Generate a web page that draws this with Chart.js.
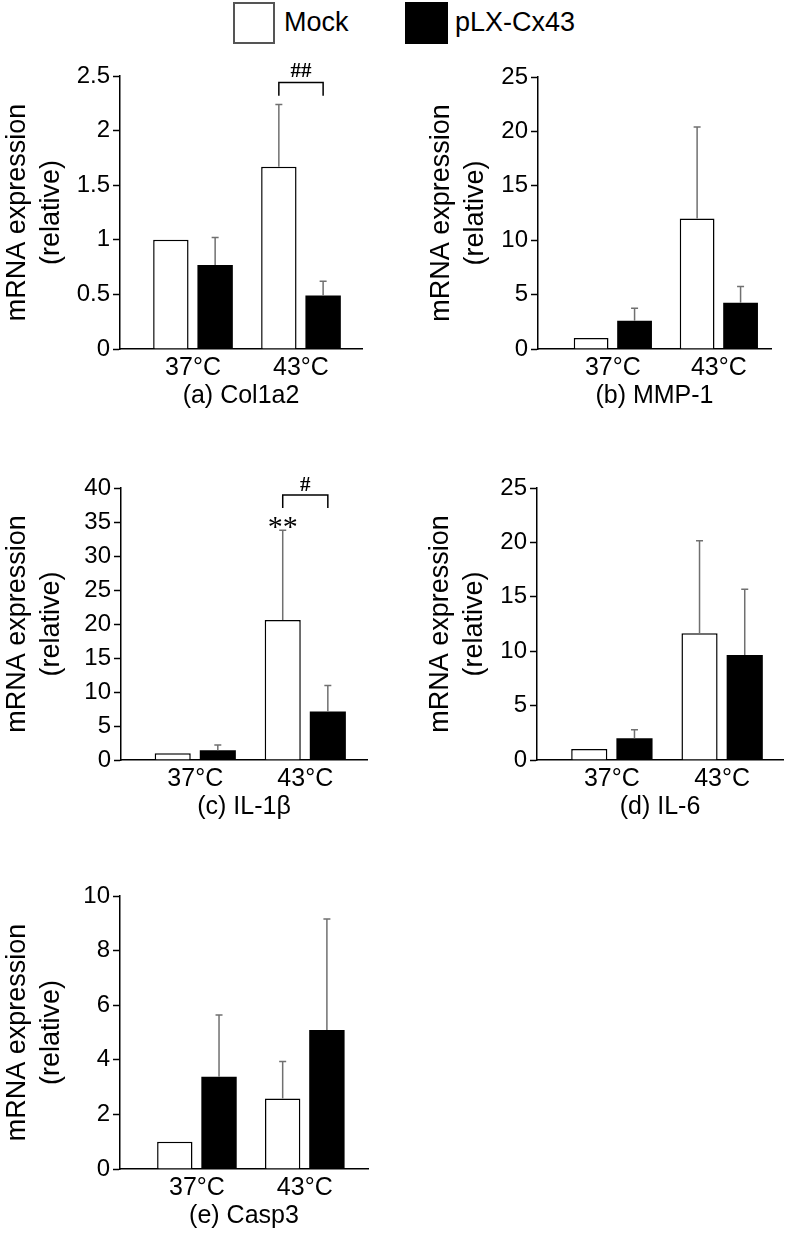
<!DOCTYPE html>
<html>
<head>
<meta charset="utf-8">
<script src="https://cdn.jsdelivr.net/npm/chart.js@4.4.0/dist/chart.umd.min.js"></script>
<style>
  body { margin: 0; background: #fff; width: 786px; height: 1236px; position: relative; overflow: hidden;
         font-family: "Liberation Sans", Arial, Helvetica, sans-serif; color: #000; }
  canvas { position: absolute; }
  .swatch { position: absolute; box-sizing: border-box; width: 42px; height: 42px; top: 2px; }
  .key { position: absolute; top: 9px; font-size: 27px; line-height: 27px; white-space: nowrap; }
</style>
</head>
<body>
<div class="swatch" style="left:233px;border:2px solid #555;background:#fff"></div>
<div class="key" style="left:284px">Mock</div>
<div class="swatch" style="left:405px;width:43px;background:#000"></div>
<div class="key" style="left:455px">pLX-Cx43</div>

<canvas id="chartA"></canvas>
<canvas id="chartB"></canvas>
<canvas id="chartC"></canvas>
<canvas id="chartD"></canvas>
<canvas id="chartE"></canvas>

<script>
const categories = ['37°C', '43°C'];
const groups = ['Mock', 'pLX-Cx43'];

// (a) Col1a2
const col1a2Mock = [1.0, 1.67];
const col1a2MockErr = [0, 0.57];
const col1a2Cx = [0.77, 0.49];
const col1a2CxErr = [0.25, 0.13];
const col1a2Ticks = [0, 0.5, 1, 1.5, 2, 2.5];

// (b) MMP-1
const mmp1Mock = [1.0, 12.0];
const mmp1MockErr = [0, 8.4];
const mmp1Cx = [2.6, 4.25];
const mmp1CxErr = [1.15, 1.5];
const mmp1Ticks = [0, 5, 10, 15, 20, 25];

// (c) IL-1β
const il1bMock = [1.0, 20.6];
const il1bMockErr = [0, 13.2];
const il1bCx = [1.45, 7.15];
const il1bCxErr = [0.75, 3.8];
const il1bTicks = [0, 5, 10, 15, 20, 25, 30, 35, 40];

// (d) IL-6
const il6Mock = [1.0, 11.65];
const il6MockErr = [0, 8.5];
const il6Cx = [2.0, 9.65];
const il6CxErr = [0.78, 6.05];
const il6Ticks = [0, 5, 10, 15, 20, 25];

// (e) Casp3
const casp3Mock = [1.0, 2.58];
const casp3MockErr = [0, 1.36];
const casp3Cx = [3.38, 5.09];
const casp3CxErr = [2.26, 4.07];
const casp3Ticks = [0, 2, 4, 6, 8, 10];

// significance marks (value units)
const col1a2Sig = [{ index: 1, type: 'bracket', top: 2.44, drop: 2.32, label: '##', labelAt: 2.545 }];
const il1bSig = [
  { index: 1, type: 'bracket', top: 38.97, drop: 37.07, label: '#', labelAt: 40.4 },
  { index: 1, type: 'stars', label: '**', labelAt: 35.0 }
];

Chart.defaults.font.family = '"Liberation Sans", Arial, Helvetica, sans-serif';
Chart.defaults.color = '#000';

const errorBars = {
  id: 'errorBars',
  afterDatasetsDraw(chart) {
    const ctx = chart.ctx;
    const y = chart.scales.y;
    chart.data.datasets.forEach((ds, i) => {
      const meta = chart.getDatasetMeta(i);
      meta.data.forEach((bar, j) => {
        const err = ds.errors[j];
        if (!err) return;
        const top = y.getPixelForValue(ds.data[j].y + err);
        ctx.save();
        ctx.strokeStyle = '#707070';
        ctx.lineWidth = 1.5;
        ctx.beginPath();
        ctx.moveTo(bar.x, bar.y);
        ctx.lineTo(bar.x, top);
        ctx.moveTo(bar.x - 3.5, top);
        ctx.lineTo(bar.x + 3.5, top);
        ctx.stroke();
        ctx.restore();
      });
    });
  }
};

const sigMarks = {
  id: 'sigMarks',
  afterDatasetsDraw(chart, args, opts) {
    const ctx = chart.ctx;
    const y = chart.scales.y;
    (opts.marks || []).forEach(m => {
      const a = chart.getDatasetMeta(0).data[m.index];
      const b = chart.getDatasetMeta(1).data[m.index];
      ctx.save();
      ctx.fillStyle = '#000';
      ctx.strokeStyle = '#000';
      ctx.lineWidth = 1.5;
      ctx.textAlign = 'center';
      ctx.textBaseline = 'middle';
      if (m.type === 'bracket') {
        const yt = y.getPixelForValue(m.top);
        const yd = y.getPixelForValue(m.drop);
        ctx.beginPath();
        ctx.moveTo(a.x, yd);
        ctx.lineTo(a.x, yt);
        ctx.lineTo(b.x, yt);
        ctx.lineTo(b.x, yd);
        ctx.stroke();
        ctx.font = 'bold 21px "Liberation Serif", serif';
        ctx.fillText(m.label, (a.x + b.x) / 2, y.getPixelForValue(m.labelAt));
      } else {
        ctx.font = '30px "Liberation Serif", serif';
        ctx.fillText(m.label, a.x, y.getPixelForValue(m.labelAt) + 6);
      }
      ctx.restore();
    });
  }
};

const panels = [
  { id: 'chartA', title: '(a) Col1a2', mock: col1a2Mock, mockErr: col1a2MockErr, cx: col1a2Cx, cxErr: col1a2CxErr,
    ticks: col1a2Ticks, sig: col1a2Sig, box: { left: 0, top: 56, width: 365, height: 355, axisW: 120, xMin: 0.324, xMax: 2.565 } },
  { id: 'chartB', title: '(b) MMP-1', mock: mmp1Mock, mockErr: mmp1MockErr, cx: mmp1Cx, cxErr: mmp1CxErr,
    ticks: mmp1Ticks, sig: [], box: { left: 424, top: 57, width: 350, height: 354, axisW: 114, xMin: 0.294, xMax: 2.492 } },
  { id: 'chartC', title: '(c) IL-1β', mock: il1bMock, mockErr: il1bMockErr, cx: il1bCx, cxErr: il1bCxErr,
    ticks: il1bTicks, sig: il1bSig, box: { left: 0, top: 468, width: 370, height: 354, axisW: 121, xMin: 0.325, xMax: 2.561 } },
  { id: 'chartD', title: '(d) IL-6', mock: il6Mock, mockErr: il6MockErr, cx: il6Cx, cxErr: il6CxErr,
    ticks: il6Ticks, sig: [], box: { left: 423, top: 468, width: 363, height: 354, axisW: 114, xMin: 0.321, xMax: 2.552 } },
  { id: 'chartE', title: '(e) Casp3', mock: casp3Mock, mockErr: casp3MockErr, cx: casp3Cx, cxErr: casp3CxErr,
    ticks: casp3Ticks, sig: [], box: { left: 0, top: 876, width: 371, height: 355, axisW: 120, xMin: 0.287, xMax: 2.586 } }
];

const toPoints = (values) => values.map((v, i) => ({ x: i + 1, y: v }));

const makePanel = (p) => {
  const canvas = document.getElementById(p.id);
  canvas.width = p.box.width;
  canvas.height = p.box.height;
  canvas.style.left = p.box.left + 'px';
  canvas.style.top = p.box.top + 'px';

  new Chart(canvas, {
    type: 'bar',
    data: {
      datasets: [
        { label: groups[0], data: toPoints(p.mock), errors: p.mockErr,
          backgroundColor: '#fff', borderColor: '#000', borderWidth: 1.5 },
        { label: groups[1], data: toPoints(p.cx), errors: p.cxErr,
          backgroundColor: '#000', borderColor: '#000', borderWidth: 0 }
      ]
    },
    options: {
      responsive: false,
      animation: false,
      categoryPercentage: 0.82,
      barPercentage: 0.8,
      layout: { padding: { top: 20, right: 3, bottom: 0, left: 0 } },
      plugins: {
        legend: { display: false },
        tooltip: { enabled: false },
        sigMarks: { marks: p.sig }
      },
      scales: {
        x: {
          type: 'linear',
          min: p.box.xMin,
          max: p.box.xMax,
          offset: false,
          afterBuildTicks: (s) => { s.ticks = categories.map((c, i) => ({ value: i + 1 })); },
          grid: { display: false, drawTicks: false },
          border: { display: true, color: '#000', width: 1.5 },
          ticks: { callback: (v, i) => categories[i], padding: 4, font: { size: 25 }, color: '#000',
                   maxRotation: 0, autoSkip: false },
          title: { display: true, text: p.title, font: { size: 25, lineHeight: 1.2 }, color: '#000', padding: 0 },
          afterFit: (s) => { s.height = 62; }
        },
        y: {
          min: 0,
          max: p.ticks[p.ticks.length - 1],
          afterBuildTicks: (s) => { s.ticks = p.ticks.map(v => ({ value: v })); },
          grid: { display: true, drawOnChartArea: false, drawTicks: true, tickLength: 7, tickColor: '#000', tickWidth: 1.5 },
          border: { display: true, color: '#000', width: 1.5 },
          ticks: { padding: 3, font: { size: 24 }, color: '#000', callback: (v) => String(v) },
          title: { display: true, text: ['mRNA expression', '(relative)'], font: { size: 27, lineHeight: 1.27 },
                   color: '#000', padding: 0 },
          afterFit: (s) => { s.width = p.box.axisW; }
        }
      }
    },
    plugins: [errorBars, sigMarks]
  });
};

window.onload = () => {
  panels.forEach(makePanel);
};
</script>
</body>
</html>
